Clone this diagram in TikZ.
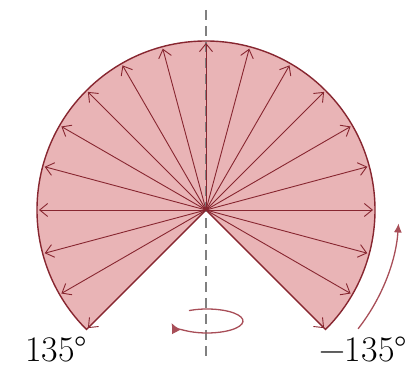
\documentclass[tikz,border=0pt]{standalone}
\usepackage{fontspec}
\usepackage{tikz}
\usetikzlibrary{arrows.meta, calc, positioning}
\definecolor{fanfill}{RGB}{233,180,182}
\definecolor{fanline}{RGB}{135,38,48}
\definecolor{spinred}{RGB}{168,78,88}

\begin{document}
\begin{tikzpicture}[x=1pt, y=1pt,
  ray/.style={fanline, line width=0.9pt, -{Straight Barb[length=8pt,width=13pt]}},
  lbl/.style={inner sep=0pt, font=\fontsize{36}{40}\selectfont}]
\useasboundingbox (0,0) rectangle (418,374);
\coordinate (o) at (206,164);
\coordinate (axtop) at (206,364);
\coordinate (axbot) at (206,12);
% sector of half-planes, 270 degrees
\draw[fanline, line width=1.4pt, fill=fanfill] (o) -- ++(-45:169) arc[start angle=-45, end angle=225, radius=169] -- cycle;
\draw[gray, line width=1.2pt, dash pattern=on 10pt off 6pt] (axtop) -- (axbot);
\foreach \a in {-45,-30,...,225} {
  \path (o) ++(\a:167) coordinate (tip\a);
  \draw[ray] (o) -- (tip\a);
}
% rotation about the axis
\draw[spinred, line width=1.3pt, -{Latex[length=10pt,width=10pt]}] (207,53) ++(120:36 and 12) arc[start angle=120, end angle=-170, x radius=36, y radius=12];
\draw[spinred, line width=1.3pt, -{Latex[length=9pt,width=8pt]}] (o) ++(-38:193) arc[start angle=-38, end angle=-4, radius=193];
\node[lbl] (lblL) at (56,25) {135°};
\node[lbl] (lblR) at (363,25) {−135°};
\end{tikzpicture}
\end{document}
